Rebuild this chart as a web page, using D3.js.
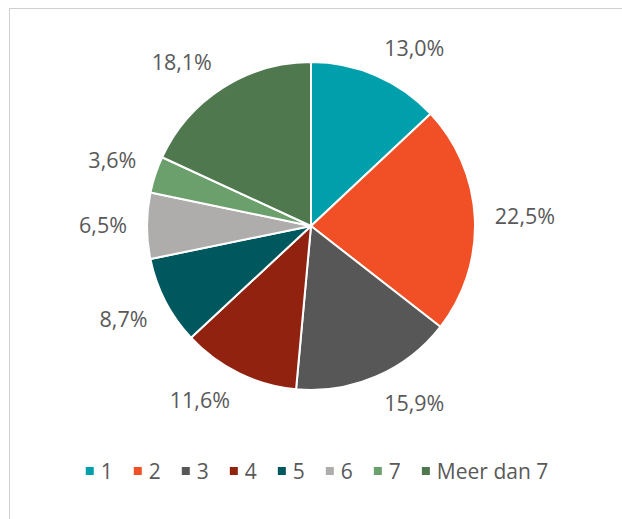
<!DOCTYPE html>
<html>
<head>
<meta charset="utf-8">
<script src="https://cdn.jsdelivr.net/npm/d3@7"></script>
<style>
  body { margin: 0; background: #fff; }
  svg { display: block; }
  text { font-family: "Open Sans", sans-serif; fill: #595959; }
</style>
</head>
<body>
<svg id="chart" width="622" height="519"></svg>
<script>
// data
const categories = ["1", "2", "3", "4", "5", "6", "7", "Meer dan 7"];
const shares = [13.0, 22.5, 15.9, 11.6, 8.7, 6.5, 3.6, 18.1];
const colors = ["#009fac", "#f15026", "#575757", "#922210", "#00585f", "#aeadac", "#6b9f6b", "#4f784e"];

const width = 622, height = 519;
const cx = 311, cy = 226, radius = 164;

const svg = d3.select("#chart");

// chart border (right and bottom edges fall outside the picture)
svg.append("rect")
  .attr("x", 9.5).attr("y", 8.5)
  .attr("width", 640).attr("height", 540)
  .attr("fill", "none")
  .attr("stroke", "#d0d0d0");

const color = d3.scaleOrdinal().domain(categories).range(colors);

const pie = d3.pie().sort(null).value(d => d.value);
const arcs = pie(categories.map((c, i) => ({ name: c, value: shares[i] })));

const arc = d3.arc().innerRadius(0).outerRadius(radius);

const g = svg.append("g").attr("transform", `translate(${cx},${cy})`);

g.selectAll("path")
  .data(arcs)
  .enter()
  .append("path")
  .attr("d", arc)
  .attr("fill", d => color(d.data.name))
  .attr("stroke", "#fff")
  .attr("stroke-width", 2)
  .attr("stroke-linejoin", "round");

// labels sit just outside the edge, nearest corner of the text box on the mid-angle
const fmt = v => v.toFixed(1).replace(".", ",") + "%";
const clamp = v => Math.max(-1, Math.min(1, v));
const labelFont = 21.5;
const gap = 20;

const labels = g.selectAll("text.lbl")
  .data(arcs)
  .enter()
  .append("text")
  .attr("class", "lbl")
  .attr("font-size", labelFont)
  .attr("text-anchor", "middle")
  .text(d => fmt(d.data.value));

labels.each(function(d) {
  const w = this.getComputedTextLength();
  const h = labelFont * 0.8;
  const a = (d.startAngle + d.endAngle) / 2;
  const s = Math.sin(a), c = Math.cos(a);
  const px = (radius + gap) * s;
  const py = -(radius + gap) * c;
  const x = px + w / 2 * clamp(3 * s);
  const y = py - h / 2 * clamp(3 * c);
  d3.select(this)
    .attr("x", x)
    .attr("y", y)
    .attr("dy", "0.36em");
});

// legend
const legendFont = 21;
const box = 8;
const itemGap = 21;
const legend = svg.append("g");
let lx = 0;
categories.forEach(function(c) {
  const item = legend.append("g").attr("transform", `translate(${lx},0)`);
  item.append("rect")
    .attr("x", 0).attr("y", -box / 2)
    .attr("width", box).attr("height", box)
    .attr("fill", color(c));
  const t = item.append("text")
    .attr("x", box + 7)
    .attr("dy", "0.36em")
    .attr("font-size", legendFont)
    .text(c);
  lx += box + 7 + t.node().getComputedTextLength() + itemGap;
});
lx -= itemGap;
legend.attr("transform", `translate(${(width + 12 - lx) / 2},471)`);
</script>
</body>
</html>
